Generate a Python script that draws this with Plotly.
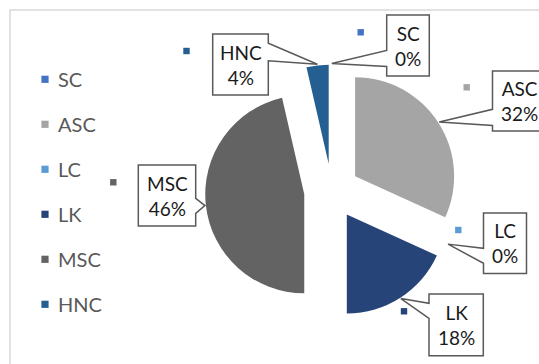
import math
import plotly.graph_objects as go

# ---- data ----
labels = ["SC", "ASC", "LC", "LK", "MSC", "HNC"]
values = [0, 31.8, 0, 18.2, 46.4, 3.6]
colors = ["#4472C4", "#A5A5A5", "#5B9BD5", "#264478", "#636363", "#255E91"]

# ---- layout constants (pixels) ----
W, H = 539, 364
CX, CY = 331.8, 191.2      # pie centre (before explosion)
R = 99.0                   # slice radius
PULL = 0.28                # explosion as fraction of radius

half = R * (1 + PULL)
dom_x = [(CX - half) / W, (CX + half) / W]
dom_y = [1 - (CY + half) / H, 1 - (CY - half) / H]


def px(x, y):
    return x / W, 1 - y / H


# callout boxes: x0, y0, x1, y1, side of the wedge, wedge base (y0, y1)
boxes = {
    "HNC": (212.7, 34, 268.3, 95, "right", (43.3, 60.7)),
    "SC": (386.7, 15, 429.3, 76, "left", (50.5, 66.5)),
    "ASC": (492.5, 71, 547, 131, "left", (109.3, 125.5)),
    "LC": (483.5, 213, 526.5, 273.5, "left", (248.3, 263.3)),
    "LK": (429, 294, 483.3, 355.7, "left", (303.3, 318.3)),
    "MSC": (138.3, 165, 195.7, 226, "right", (198.3, 213.3)),
}
keys = {
    "HNC": (186.5, 51), "SC": (360.7, 32.3), "ASC": (466.7, 87.3),
    "LC": (458.3, 230), "LK": (404, 311.3), "MSC": (113.3, 182.3),
}
legend_x, legend_y0, legend_dy = 45, 79.3, 45

fig = go.Figure(go.Pie(
    labels=labels, values=values, sort=False, direction="clockwise",
    rotation=0, pull=[PULL] * len(values),
    marker=dict(colors=colors, line=dict(width=0)),
    textinfo="none", showlegend=False, domain=dict(x=dom_x, y=dom_y),
))

shapes = []
annotations = []

# chart border
shapes.append(dict(type="rect", xref="paper", yref="paper",
                   x0=10 / W, y0=-0.2, x1=1.2, y1=1 - 10 / H,
                   line=dict(color="#D9D9D9", width=1.5), layer="below"))

total = sum(values)
cum = 0.0
for lab, v, col in zip(labels, values, colors):
    a0 = cum / total * 360
    cum += v
    a1 = cum / total * 360
    mid = math.radians((a0 + a1) / 2)
    ax = CX + R * PULL * math.sin(mid)
    ay = CY - R * PULL * math.cos(mid)
    tx = ax + (R + 1) * math.sin(mid)
    ty = ay - (R + 1) * math.cos(mid)

    x0, y0, x1, y1, side, (b0, b1) = boxes[lab]
    if side == "right":
        pts = [(x0, y0), (x1, y0), (x1, b0), (tx, ty), (x1, b1), (x1, y1), (x0, y1)]
    else:
        pts = [(x0, y0), (x1, y0), (x1, y1), (x0, y1), (x0, b1), (tx, ty), (x0, b0)]
    path = "M " + " L ".join("%.5f,%.5f" % px(*p) for p in pts) + " Z"
    shapes.append(dict(type="path", xref="paper", yref="paper", path=path,
                       fillcolor="white", line=dict(color="#595959", width=1.5),
                       layer="above"))
    cxb, cyb = px((x0 + x1) / 2, (y0 + y1) / 2)
    annotations.append(dict(xref="paper", yref="paper", x=cxb, y=cyb,
                            text=f"{lab}<br>{round(v / total * 100)}%",
                            showarrow=False, xanchor="center", yanchor="middle",
                            font=dict(family="Lato", size=19, color="#1A1A1A")))
    # small key square near label
    kx, ky = keys[lab]
    s = 3.2
    X0, Y0 = px(kx - s, ky - s)
    X1, Y1 = px(kx + s, ky + s)
    shapes.append(dict(type="rect", xref="paper", yref="paper",
                       x0=X0, y0=Y1, x1=X1, y1=Y0, fillcolor=col,
                       line=dict(width=0), layer="above"))

# manual legend
for i, (lab, col) in enumerate(zip(labels, colors)):
    ly = legend_y0 + i * legend_dy
    s = 3.6
    X0, Y0 = px(legend_x - s, ly - s)
    X1, Y1 = px(legend_x + s, ly + s)
    shapes.append(dict(type="rect", xref="paper", yref="paper",
                       x0=X0, y0=Y1, x1=X1, y1=Y0, fillcolor=col,
                       line=dict(width=0), layer="above"))
    tx, ty = px(legend_x + 11, ly)
    annotations.append(dict(xref="paper", yref="paper", x=tx, y=ty, text=lab,
                            showarrow=False, xanchor="left", yanchor="middle",
                            font=dict(family="Lato", size=20, color="#595959")))

fig.update_layout(width=W, height=H, autosize=False,
                  margin=dict(l=0, r=0, t=0, b=0),
                  paper_bgcolor="white", plot_bgcolor="white",
                  shapes=shapes, annotations=annotations)

fig.write_html("out.html")
